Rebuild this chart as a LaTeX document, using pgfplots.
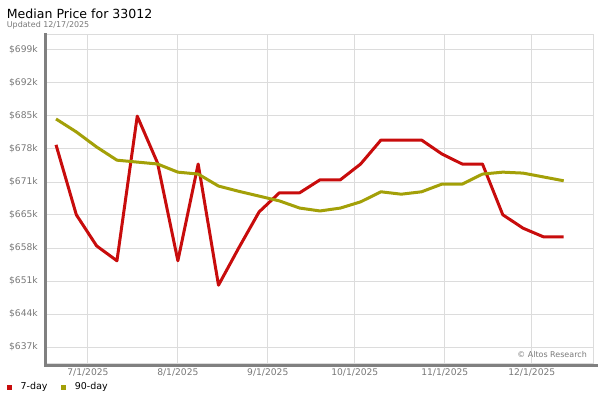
\documentclass[border=0pt]{standalone}
\usepackage{pgfplots}
\pgfplotsset{compat=1.18}
\usepackage{fontspec}
\setmainfont{DejaVu Sans}
\definecolor{redseven}{RGB}{200,12,12}
\definecolor{oliveninety}{RGB}{163,160,8}
\definecolor{gridc}{RGB}{220,220,220}
\definecolor{spine}{RGB}{128,128,128}
\definecolor{lab}{RGB}{120,120,120}

\pgfplotstableread{
day sevenday ninetyday
-11 679.2 684.6
-4 664.6 681.9
3 658.1 678.75
10 655.0 676.0
17 685.2 675.6
24 675.4 675.2
31 655.0 673.5
38 675.2 673.1
45 649.9 670.6
52 657.7 669.5
59 665.2 668.5
66 669.2 667.5
73 669.2 666.0
80 671.9 665.4
87 671.9 666.0
94 675.2 667.3
101 680.2 669.4
108 680.2 668.9
115 680.2 669.4
122 677.3 671.0
129 675.2 671.0
136 675.2 673.1
143 664.6 673.5
150 661.8 673.3
157 660.0 672.5
164 660.0 671.7
}\pricedata

\begin{document}
\begin{tikzpicture}[x=1bp,y=1bp]
\useasboundingbox (0,0) rectangle (600,400);
\begin{axis}[
  at={(45bp,37bp)}, anchor=south west,
  scale only axis, width=548bp, height=328bp,
  xmin=-14.8, xmax=174.1, ymin=633.66, ymax=702.13,
  axis line style={draw=gridc, line width=1bp},
  xtick={0,31,62,92,123,153},
  xticklabels={7/1/2025,8/1/2025,9/1/2025,10/1/2025,11/1/2025,12/1/2025},
  ytick={637,643.889,650.778,657.667,664.556,671.444,678.333,685.222,692.111,699},
  yticklabels={\$637k,\$644k,\$651k,\$658k,\$665k,\$671k,\$678k,\$685k,\$692k,\$699k},
  grid=major, major grid style={draw=gridc, line width=1bp},
  major tick length=0pt, tick style={draw=none},
  ticklabel style={font=\fontsize{9.2}{11}\selectfont, text=lab, inner sep=0pt},
  yticklabel style={anchor=east, xshift=-7bp},
  xticklabel style={anchor=north, yshift=-5bp},
  legend style={at={(-0.0693,-0.0732)}, anchor=west, draw=none, fill=none,
    legend columns=2, font=\fontsize{9.5}{11}\selectfont, inner sep=0pt,
    nodes={inner sep=0pt},
    /tikz/every odd column/.append style={column sep=8.4bp},
    /tikz/every even column/.append style={column sep=14bp}},
  legend image code/.code={\fill[#1, draw=none] (0bp,-2.5bp) rectangle (5bp,2.5bp);},
]
\addplot[redseven, line width=3bp, line join=round] table[x=day, y=sevenday] {\pricedata};
\addlegendentry{7-day}
\addplot[oliveninety, line width=3bp, line join=round] table[x=day, y=ninetyday] {\pricedata};
\addlegendentry{90-day}
\end{axis}
\draw[spine, line width=3bp] (45.5,367) -- (45.5,35);
\draw[spine, line width=3bp] (44,35) -- (598,35);
\node[anchor=base west, inner sep=0pt, font=\fontsize{12.6}{14}\selectfont] at (6.7,381.7) {Median Price for 33012};
\node[anchor=base west, inner sep=0pt, font=\fontsize{8}{9}\selectfont, text=lab] at (6.7,372.7) {Updated 12/17/2025};
\node[anchor=east, inner sep=0pt, font=\fontsize{8}{9}\selectfont, text=lab] at (587,45) {© Altos Research};
\end{tikzpicture}
\end{document}
